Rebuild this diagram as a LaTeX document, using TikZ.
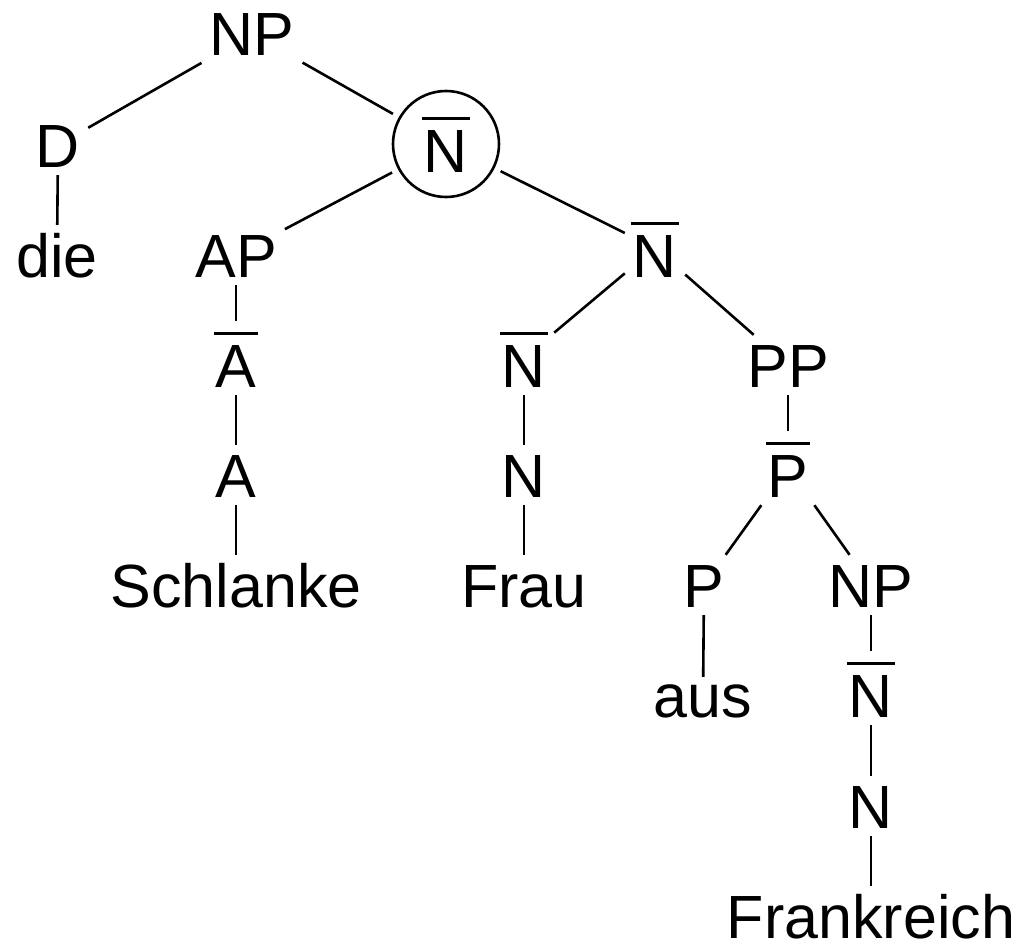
\documentclass[tikz,border=0pt]{standalone}
\usepackage{fontspec}
\setmainfont{Liberation Sans}
\newcommand\ovl[1]{\setbox0\hbox{#1}\makebox[0pt][l]{\hspace{-1.5pt}\raisebox{52.5pt}{\rule{\dimexpr\wd0+3pt\relax}{3pt}}}\box0}
\begin{document}
\begin{tikzpicture}[x=1pt,y=-1pt,
  lbl/.style={anchor=base,inner sep=8pt,text height=44pt,text depth=0pt,font=\fontsize{61}{70}\selectfont},
  barlbl/.style={lbl,text height=58pt},
  edge/.style={line width=2.6pt}]
\useasboundingbox (0,0) rectangle (1023,942);
\node[lbl] (np1) at (252,56) {NP};
\node[lbl] (d) at (58,167) {D};
\node[lbl] (die) at (57,277) {die};
\node[circle,draw,line width=2.6pt,minimum size=106pt,inner sep=0pt,outer sep=8pt,text height=56pt,text depth=0pt,font=\fontsize{61}{70}\selectfont] (nb1) at (446,144) {\ovl{N}};
\node[lbl] (ap) at (236,277) {AP};
\node[barlbl] (ab) at (236,387) {\ovl{A}};
\node[lbl] (a) at (236,497) {A};
\node[lbl] (schlanke) at (236,607) {Schlanke};
\node[barlbl] (nb2) at (655,277) {\ovl{N}};
\node[barlbl] (nb3) at (524,387) {\ovl{N}};
\node[lbl] (n1) at (524,497) {N};
\node[lbl] (frau) at (524,607) {Frau};
\node[lbl] (pp) at (788,387) {PP};
\node[barlbl] (pb) at (788,497) {\ovl{P}};
\node[lbl] (p) at (704,607) {P};
\node[lbl,text height=32pt] (aus) at (703,717) {aus};
\node[lbl] (np2) at (871,607) {NP};
\node[barlbl] (nb4) at (871,717) {\ovl{N}};
\node[lbl] (n2) at (871,828) {N};
\node[lbl,inner sep=2pt,text height=50pt] (frankreich) at (871,938) {Frankreich};
\draw[edge] (np1) -- (d);
\draw[edge] (np1) -- (nb1);
\draw[edge] (d) -- (die);
\draw[edge] (nb1) -- (ap);
\draw[edge] (nb1) -- (nb2);
\draw[edge] (ap) -- (ab);
\draw[edge] (ab) -- (a);
\draw[edge] (a) -- (schlanke);
\draw[edge] (nb2) -- (nb3);
\draw[edge] (nb2) -- (pp);
\draw[edge] (nb3) -- (n1);
\draw[edge] (n1) -- (frau);
\draw[edge] (pp) -- (pb);
\draw[edge] (pb) -- (p);
\draw[edge] (pb) -- (np2);
\draw[edge] (p) -- (aus);
\draw[edge] (np2) -- (nb4);
\draw[edge] (nb4) -- (n2);
\draw[edge] (n2) -- (frankreich);
\end{tikzpicture}
\end{document}
